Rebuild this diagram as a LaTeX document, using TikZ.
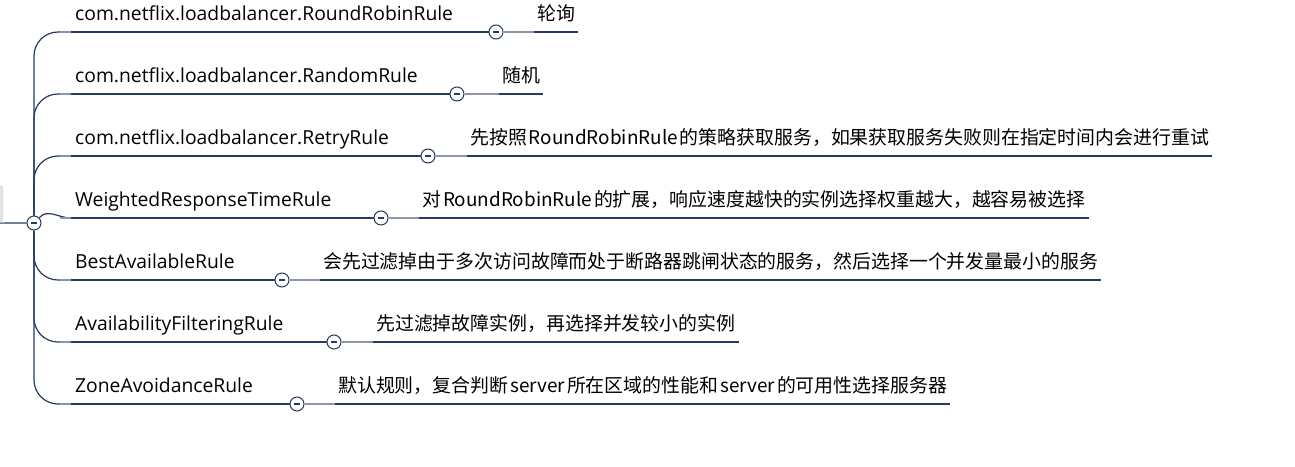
\documentclass[tikz,border=0pt]{standalone}
\usepackage{fontspec}
\setmainfont{Open Sans}
\newfontfamily\cjk{Noto Sans CJK SC}
\usetikzlibrary{positioning}
\definecolor{linenavy}{RGB}{38,58,98}
\definecolor{linegray}{RGB}{140,150,168}
\definecolor{rootgray}{RGB}{228,228,228}
\definecolor{rootedge}{RGB}{205,205,205}
% Latin words inside Chinese text get a little room on both sides
\newcommand{\lat}[1]{\hspace{2pt}#1\hspace{2pt}}

\begin{document}
\begin{tikzpicture}[x=1pt,y=-1pt,
  rule/.style={anchor=south west,inner xsep=4pt,inner ysep=0pt,
               text depth=11pt,font=\fontsize{19.3}{22}\selectfont},
  detail/.style={anchor=south west,inner xsep=3pt,inner ysep=0pt,
                 text depth=11pt,font=\fontsize{18.9}{22}\selectfont\cjk},
  fold/.style={circle,draw=linenavy,fill=white,line width=1pt,
               minimum size=14pt,inner sep=0pt},
  edge/.style={draw=linenavy,line width=1.2pt},
  stub/.style={draw=linegray,line width=1.8pt},
]
\useasboundingbox (0,0) rectangle (1295,466);

%% Root (mostly off the page) and its hub
\node[draw=rootedge,fill=rootgray,rounded corners=4pt,
      minimum width=46pt,minimum height=38pt] (root) at (-20,204) {};
\node[fold] (hub) at (34,223) {\color{linenavy}\rule{6pt}{1.2pt}};

%% Rules
\node[rule] (r1) at (71, 32) {com.netflix.loadbalancer.RoundRobinRule};
\node[rule] (r2) at (71, 94) {com.netflix.loadbalancer.RandomRule};
\node[rule] (r3) at (71,156) {com.netflix.loadbalancer.RetryRule};
\node[rule] (r4) at (71,218) {WeightedResponseTimeRule};
\node[rule] (r5) at (71,280) {BestAvailableRule};
\node[rule] (r6) at (71,342) {AvailabilityFilteringRule};
\node[rule] (r7) at (71,404) {ZoneAvoidanceRule};

% Fold buttons at the end of each rule
\node[fold] (f1) at (496, 32) {\color{linenavy}\rule{6pt}{1.2pt}};
\node[fold] (f2) at (457, 94) {\color{linenavy}\rule{6pt}{1.2pt}};
\node[fold] (f3) at (428,156) {\color{linenavy}\rule{6pt}{1.2pt}};
\node[fold] (f4) at (381,218) {\color{linenavy}\rule{6pt}{1.2pt}};
\node[fold] (f5) at (282,280) {\color{linenavy}\rule{6pt}{1.2pt}};
\node[fold] (f6) at (334,342) {\color{linenavy}\rule{6pt}{1.2pt}};
\node[fold] (f7) at (297,404) {\color{linenavy}\rule{6pt}{1.2pt}};

% Descriptions
\node[detail] (d1) at (534, 32) {轮询};
\node[detail] (d2) at (499, 94) {随机};
\node[detail] (d3) at (467,156) {先按照\lat{RoundRobinRule}的策略获取服务，如果获取服务失败则在指定时间内会进行重试};
\node[detail] (d4) at (419,218) {对\lat{RoundRobinRule}的扩展，响应速度越快的实例选择权重越大，越容易被选择};
\node[detail] (d5) at (320,280) {会先过滤掉由于多次访问故障而处于断路器跳闸状态的服务，然后选择一个并发量最小的服务};
\node[detail] (d6) at (373,342) {先过滤掉故障实例，再选择并发较小的实例};
\node[detail] (d7) at (335,404) {默认规则，复合判断\lat{server}所在区域的性能和\lat{server}的可用性选择服务器};

%% Connectors
\draw[edge] (root.south) -- (hub.west);

% Branches up from the hub
\draw[edge,rounded corners=24pt] (hub.north) |- (r1.south west);
\draw[edge,rounded corners=24pt] (hub.north) |- (r2.south west);
\draw[edge,rounded corners=24pt] (hub.north) |- (r3.south west);
\draw[edge] (hub.north east) to[out=50,in=180] (r4.south west);
% Branches down from the hub
\draw[edge,rounded corners=24pt] (hub.south) |- (r5.south west);
\draw[edge,rounded corners=24pt] (hub.south) |- (r6.south west);
\draw[edge,rounded corners=24pt] (hub.south) |- (r7.south west);

% Underlines of the rules, and their light stubs
\draw[edge] (r1.south west) -- (f1.west);
\draw[edge] (r2.south west) -- (f2.west);
\draw[edge] (r3.south west) -- (f3.west);
\draw[edge] (r4.south west) -- (f4.west);
\draw[edge] (r5.south west) -- (f5.west);
\draw[edge] (r6.south west) -- (f6.west);
\draw[edge] (r7.south west) -- (f7.west);
\draw[stub] (r1.south west) -- ++(-11,0);
\draw[stub] (r2.south west) -- ++(-11,0);
\draw[stub] (r3.south west) -- ++(-11,0);
\draw[stub] (r4.south west) -- ++(-11,0);
\draw[stub] (r5.south west) -- ++(-11,0);
\draw[stub] (r6.south west) -- ++(-11,0);
\draw[stub] (r7.south west) -- ++(-11,0);

% Fold button to description
\draw[stub] (f1.east) -- (d1.south west);
\draw[stub] (f2.east) -- (d2.south west);
\draw[stub] (f3.east) -- (d3.south west);
\draw[stub] (f4.east) -- (d4.south west);
\draw[stub] (f5.east) -- (d5.south west);
\draw[stub] (f6.east) -- (d6.south west);
\draw[stub] (f7.east) -- (d7.south west);

% Underlines of the descriptions
\draw[edge] (d1.south west) -- (d1.south east);
\draw[edge] (d2.south west) -- (d2.south east);
\draw[edge] (d3.south west) -- (d3.south east);
\draw[edge] (d4.south west) -- (d4.south east);
\draw[edge] (d5.south west) -- (d5.south east);
\draw[edge] (d6.south west) -- (d6.south east);
\draw[edge] (d7.south west) -- (d7.south east);

\end{tikzpicture}
\end{document}
